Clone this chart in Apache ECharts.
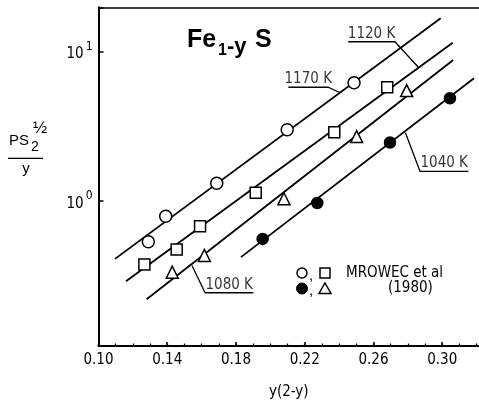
<!DOCTYPE html>
<html><head><meta charset="utf-8">
<script src="https://cdn.jsdelivr.net/npm/echarts@6/dist/echarts.min.js"></script>
<style>html,body{margin:0;padding:0;background:#fff}#c{width:479px;height:405px}</style>
</head><body><div id="c"></div>
<script>
const NARROW = "'Liberation Sans Narrow','DejaVu Sans Condensed','Roboto Condensed',sans-serif";
const SANS = "'Liberation Sans','Arial',sans-serif";

// x-axis major tick values and labels
const xTickValues = [0.10, 0.14, 0.18, 0.22, 0.26, 0.30];
const xTickLabels = ['0.10', '0.14', '0.18', '0.22', '0.26', '0.30'];
// y-axis labelled decades
const yTickValues = [1, 10];
const yTickExps = ['0', '1'];

// MROWEC et al (1980) data, open circles (1170 K)
const xCircle = [0.1290, 0.1391, 0.1688, 0.2098, 0.2487];
const yCircle = [0.530, 0.785, 1.31, 2.99, 6.18];
// open squares (1120 K)
const xSquare = [0.1267, 0.1455, 0.1591, 0.1915, 0.2372, 0.2680];
const ySquare = [0.373, 0.470, 0.673, 1.13, 2.88, 5.76];
// open triangles (1080 K)
const xTriangle = [0.1429, 0.1616, 0.2079, 0.2502, 0.2793];
const yTriangle = [0.331, 0.429, 1.03, 2.69, 5.47];
// filled circles (1040 K)
const xDot = [0.1955, 0.2273, 0.2696, 0.3045];
const yDot = [0.554, 0.965, 2.455, 4.86];

// fitted lines (end points)
const x1170 = [0.1096, 0.2991], y1170 = [0.407, 16.7];
const x1120 = [0.1160, 0.3061], y1120 = [0.2885, 11.45];
const x1080 = [0.1280, 0.3064], y1080 = [0.218, 8.77];
const x1040 = [0.1829, 0.3185], y1040 = [0.418, 6.62];

// temperature annotations: label text, leader polyline (data coords)
const annNames = ['1170 K', '1120 K', '1080 K', '1040 K'];
const annX = [[0.2104, 0.2337, 0.2405], [0.2453, 0.2725, 0.2861], [0.1901, 0.1620, 0.1544], [0.3152, 0.2871, 0.2786]];
const annY = [[5.76, 5.76, 5.30], [11.63, 11.63, 7.84], [0.2413, 0.2413, 0.3674], [1.570, 1.570, 2.850]];

const X_MIN = 0.10, X_MAX = 0.3214;

const zip = (xs, ys) => xs.map((x, i) => [x, ys[i]]);

const chart = echarts.init(document.getElementById('c'));

const lineSeries = (xs, ys) => ({
  type: 'line', data: zip(xs, ys), showSymbol: false, silent: true,
  lineStyle: { color: '#000', width: 1.8 }, z: 2
});
const scatter = (xs, ys, symbol, size, fill) => ({
  type: 'scatter', data: zip(xs, ys), symbol: symbol, symbolSize: size, silent: true,
  itemStyle: { color: fill, borderColor: '#000', borderWidth: 1.5, opacity: 1 }, z: 5
});

const series = [
  lineSeries(x1170, y1170), lineSeries(x1120, y1120), lineSeries(x1080, y1080), lineSeries(x1040, y1040),
  scatter(xCircle, yCircle, 'circle', 12, '#fff'),
  scatter(xSquare, ySquare, 'rect', 11, '#fff'),
  scatter(xTriangle, yTriangle, 'triangle', 12, '#fff'),
  scatter(xDot, yDot, 'circle', 11, '#000')
];
annNames.forEach((name, i) => {
  series.push({
    type: 'line', data: zip(annX[i], annY[i]), showSymbol: false, silent: true,
    lineStyle: { color: '#000', width: 1.3 }, z: 3
  });
  series.push({
    type: 'scatter', silent: true, symbolSize: 1, itemStyle: { color: 'rgba(0,0,0,0)' },
    data: [[(annX[i][0] + annX[i][1]) / 2, annY[i][0]]],
    label: { show: true, position: 'top', distance: 0, formatter: name, color: '#000',
      fontFamily: NARROW, fontSize: 15 }
  });
});

chart.setOption({
  animation: false,
  backgroundColor: '#fff',
  grid: { left: 98.5, right: 0, top: 7.3, bottom: 58.3 },
  xAxis: [{
    type: 'value', min: X_MIN, max: X_MAX, interval: 0.04,
    name: 'y(2-y)', nameLocation: 'middle', nameGap: 39,
    nameTextStyle: { fontFamily: NARROW, fontSize: 15, color: '#000' },
    axisLine: { show: true, lineStyle: { color: '#000', width: 2 } },
    axisTick: { show: true, inside: true, length: 4, lineStyle: { color: '#000', width: 1.5 } },
    splitLine: { show: false },
    axisLabel: { margin: 7, color: '#000', fontFamily: NARROW, fontSize: 15,
      showMinLabel: true, showMaxLabel: false,
      formatter: v => { const i = xTickValues.findIndex(t => Math.abs(t - v) < 1e-6); return i >= 0 ? xTickLabels[i] : ''; } }
  }, {
    // minor ticks every 0.01 on the bottom axis
    type: 'value', position: 'bottom', offset: 0, min: X_MIN, max: X_MAX, interval: 0.01,
    axisLine: { show: false },
    axisTick: { show: true, inside: true, length: 2.5, lineStyle: { color: '#000', width: 1.3 } },
    axisLabel: { show: false }, splitLine: { show: false }
  }, {
    // frame line on top
    type: 'value', position: 'top', min: X_MIN, max: X_MAX,
    axisLine: { show: true, lineStyle: { color: '#000', width: 1.5 } },
    axisTick: { show: false }, axisLabel: { show: false }, splitLine: { show: false }
  }],
  yAxis: {
    type: 'log', logBase: 10, min: 0.106, max: 19.8,
    axisLine: { show: true, lineStyle: { color: '#000', width: 2 } },
    axisTick: { show: true, inside: true, length: 5, lineStyle: { color: '#000', width: 1.5 } },
    splitLine: { show: false },
    axisLabel: { margin: 6, color: '#000',
      formatter: v => { const i = yTickValues.findIndex(t => Math.abs(t - v) < 1e-6 * t); return i >= 0 ? '{a|10}{b|' + yTickExps[i] + '}' : ''; },
      rich: {
        a: { fontFamily: NARROW, fontSize: 15, color: '#000', padding: [6, 0, 0, 0] },
        b: { fontFamily: NARROW, fontSize: 12, color: '#000', verticalAlign: 'top', padding: [0, 0, 0, 2] }
      } }
  },
  series: series,
  graphic: [
    // title Fe_{1-y}S
    { type: 'text', left: 187, top: 28, style: { text: 'Fe', font: 'bold 25px ' + SANS, fill: '#000' } },
    { type: 'text', left: 218, top: 43, style: { text: '1', font: 'bold 16px ' + SANS, fill: '#000' } },
    { type: 'text', left: 227, top: 36, style: { text: '-y', font: 'bold 22px ' + SANS, fill: '#000' } },
    { type: 'text', left: 255, top: 28, style: { text: 'S', font: 'bold 25px ' + SANS, fill: '#000' } },
    // y axis title  PS2^(1/2) / y
    { type: 'text', x: 9, y: 140.5, style: { text: 'PS', font: '15px ' + SANS, fill: '#000', textVerticalAlign: 'middle' } },
    { type: 'text', x: 31, y: 147, style: { text: '2', font: '14px ' + SANS, fill: '#000', textVerticalAlign: 'middle' } },
    { type: 'text', x: 33, y: 128.5, style: { text: '½', font: '17px ' + SANS, fill: '#000', textVerticalAlign: 'middle' } },
    { type: 'line', shape: { x1: 8, y1: 158.3, x2: 43, y2: 158.3 }, style: { stroke: '#000', lineWidth: 1.3 } },
    { type: 'text', x: 26, y: 169, style: { text: 'y', font: '15px ' + SANS, fill: '#000', textAlign: 'center', textVerticalAlign: 'middle' } },
    // legend
    { type: 'circle', shape: { cx: 302, cy: 273, r: 5 }, style: { fill: '#fff', stroke: '#000', lineWidth: 1.5 } },
    { type: 'text', x: 309, y: 276, style: { text: ',', font: '15px ' + SANS, fill: '#000', textVerticalAlign: 'middle' } },
    { type: 'rect', shape: { x: 320, y: 268, width: 10, height: 10 }, style: { fill: '#fff', stroke: '#000', lineWidth: 1.5 } },
    { type: 'circle', shape: { cx: 302, cy: 288.5, r: 5.5 }, style: { fill: '#000', stroke: '#000', lineWidth: 1 } },
    { type: 'text', x: 309, y: 291, style: { text: ',', font: '15px ' + SANS, fill: '#000', textVerticalAlign: 'middle' } },
    { type: 'polygon', shape: { points: [[325, 283], [331, 293.5], [319, 293.5]] }, style: { fill: '#fff', stroke: '#000', lineWidth: 1.5 } },
    { type: 'text', x: 346, y: 273, style: { text: 'MROWEC et al', font: '15px ' + NARROW, fill: '#000', textVerticalAlign: 'middle' } },
    { type: 'text', x: 388, y: 288.5, style: { text: '(1980)', font: '15px ' + NARROW, fill: '#000', textVerticalAlign: 'middle' } }
  ]
});
</script>
</body></html>
